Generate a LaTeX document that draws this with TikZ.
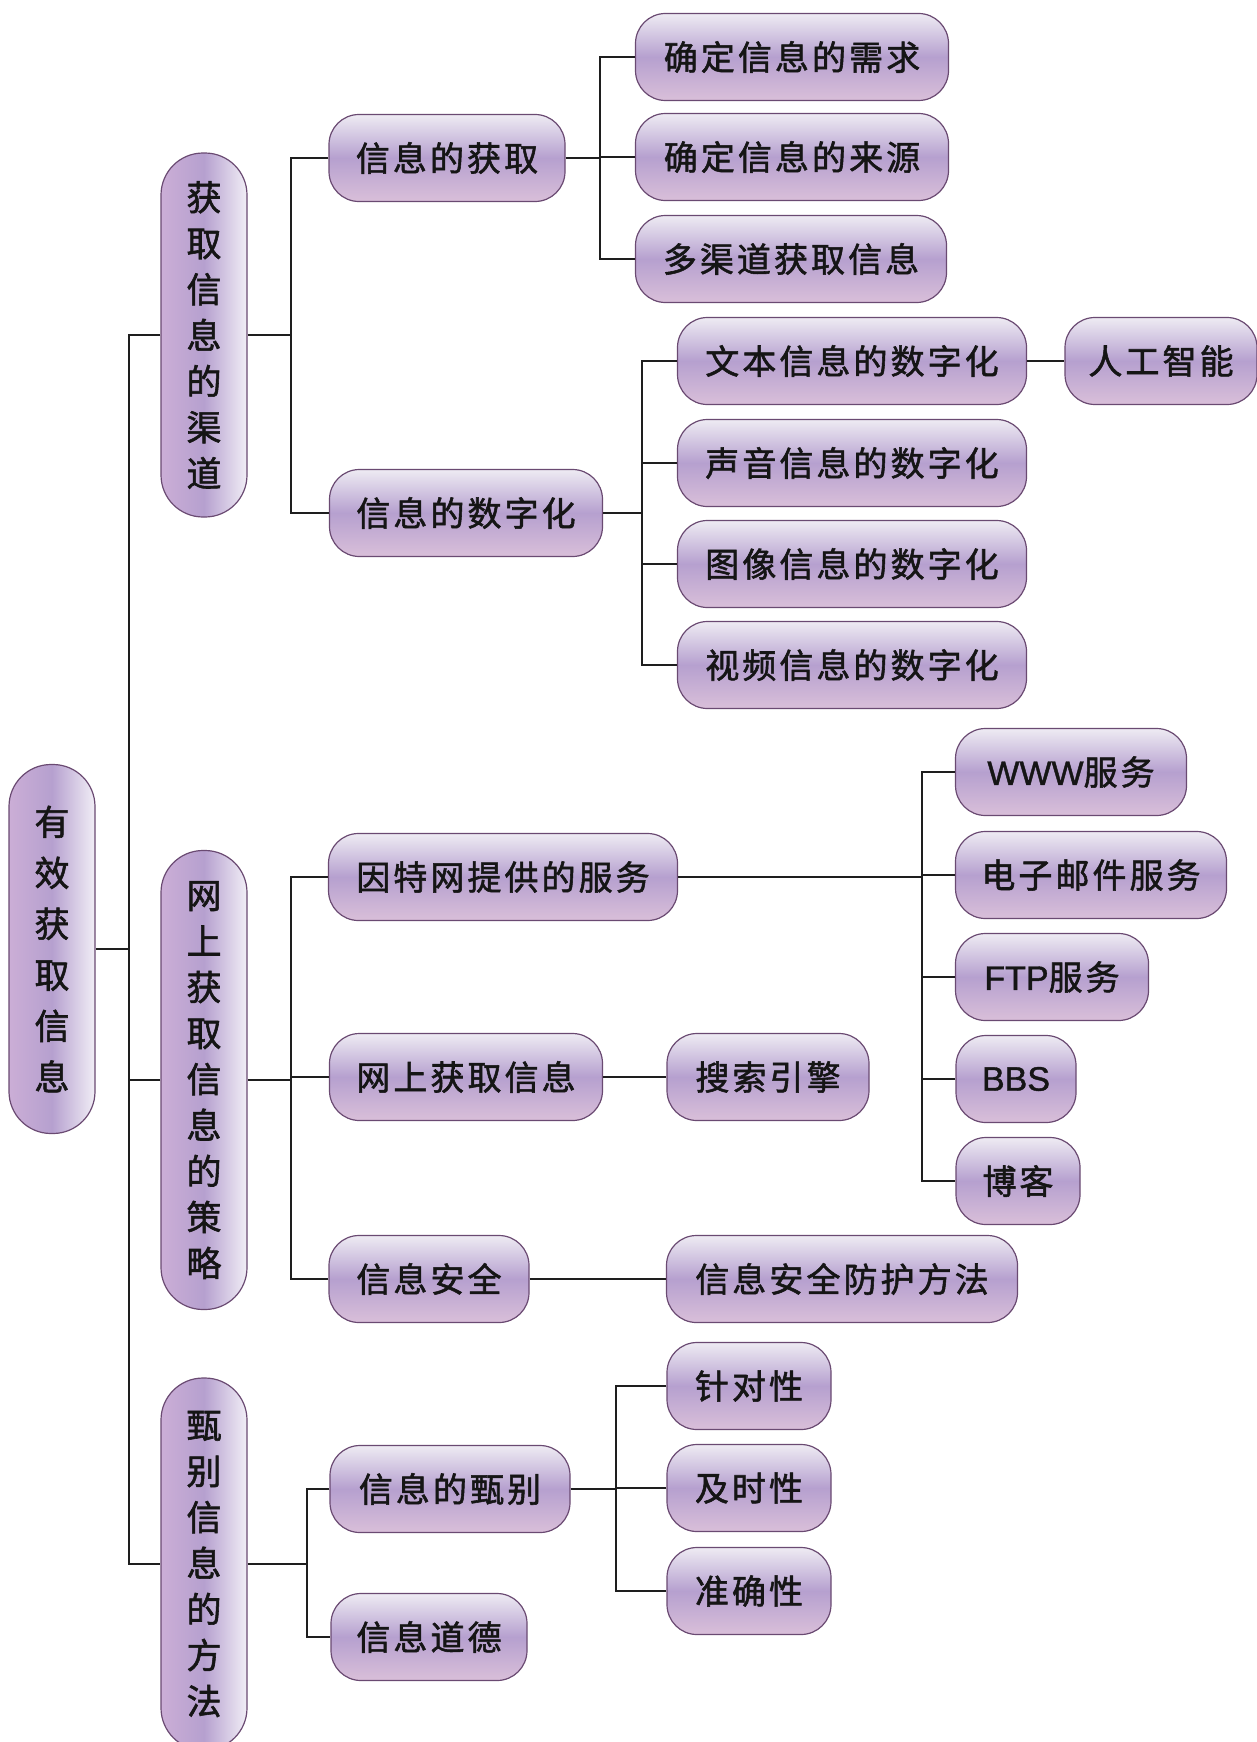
\documentclass[tikz,border=0pt]{standalone}
\usepackage{fontspec}
\newfontfamily\cjk{Noto Sans CJK SC}[LetterSpace=9,FakeBold=1.6]
\newfontfamily\cjkv{Noto Sans CJK SC}[FakeBold=1.6]
\newfontfamily\latn{Liberation Sans}[FakeBold=1.2]
\newcommand{\lt}[1]{{\latn #1}}
\definecolor{bordercol}{HTML}{6A4A72}
\definecolor{toplight}{HTML}{EEEBF3}
\definecolor{midpurple}{HTML}{B6A0CF}
\definecolor{botpink}{HTML}{D9BFD9}
\definecolor{leftpink}{HTML}{CBAED6}
\definecolor{rightlight}{HTML}{F1EEF6}
\definecolor{linecol}{HTML}{1E1E1E}
\definecolor{textcol}{HTML}{151515}
\begin{document}
\begin{tikzpicture}[x=1pt,y=-1pt,
  hbox/.style={draw=bordercol, line width=1.2pt, rounded corners=30pt,
    top color=toplight, bottom color=botpink, middle color=midpurple,
    minimum height=87pt, inner sep=0pt, text=textcol,
    font=\cjk\fontsize{34}{40}\selectfont},
  vbox/.style={draw=bordercol, line width=1.2pt, rounded corners=42pt,
    left color=leftpink, right color=rightlight, middle color=midpurple,
    minimum width=86pt, inner sep=0pt, align=center, text=textcol,
    font=\cjkv\fontsize{35}{46}\selectfont},
  link/.style={draw=linecol, line width=1.6pt}]
\useasboundingbox (0,0) rectangle (1257,1742);

% junction coordinates
\coordinate (j0) at (129,0);
\coordinate (j1) at (291,0);
\coordinate (j1c) at (307,0);
\coordinate (j2) at (600,0);
\coordinate (j3) at (642,0);
\coordinate (j4) at (922,0);
\coordinate (j5) at (616,0);

% root and level 1
\node[vbox, minimum height=369pt, font=\cjkv\fontsize{35}{51}\selectfont] (root) at (52,949) {有\\效\\获\\取\\信\\息};
\node[vbox, minimum height=364pt] (v1) at (204,335) {获\\取\\信\\息\\的\\渠\\道};
\node[vbox, minimum height=459pt] (v2) at (204,1080) {网\\上\\获\\取\\信\\息\\的\\策\\略};
\node[vbox, minimum height=372pt] (v3) at (204,1564) {甄\\别\\信\\息\\的\\方\\法};

% level 2
\node[hbox, minimum width=236pt] (n11) at (447,158) {信息的获取};
\node[hbox, minimum width=273pt] (n12) at (466,513) {信息的数字化};
\node[hbox, minimum width=349pt] (n21) at (503,877) {因特网提供的服务};
\node[hbox, minimum width=273pt] (n22) at (466,1077) {网上获取信息};
\node[hbox, minimum width=200pt] (n23) at (429,1279) {信息安全};
\node[hbox, minimum width=240pt] (n31) at (450,1489) {信息的甄别};
\node[hbox, minimum width=196pt] (n32) at (429,1637) {信息道德};

% level 3
\node[hbox, minimum width=313pt] (a1) at (792,57) {确定信息的需求};
\node[hbox, minimum width=313pt] (a2) at (792,157) {确定信息的来源};
\node[hbox, minimum width=311pt] (a3) at (791,259) {多渠道获取信息};
\node[hbox, minimum width=349pt] (b1) at (852,361) {文本信息的数字化};
\node[hbox, minimum width=349pt] (b2) at (852,463) {声音信息的数字化};
\node[hbox, minimum width=349pt] (b3) at (852,564) {图像信息的数字化};
\node[hbox, minimum width=349pt] (b4) at (852,665) {视频信息的数字化};
\node[hbox, minimum width=192pt] (ai) at (1161,361) {人工智能};
\node[hbox, minimum width=231pt] (c1) at (1071,772) {\lt{WWW}服务};
\node[hbox, minimum width=271pt] (c2) at (1091,875) {电子邮件服务};
\node[hbox, minimum width=193pt] (c3) at (1052,977) {\lt{FTP}服务};
\node[hbox, minimum width=120pt] (c4) at (1016,1079) {\lt{BBS}};
\node[hbox, minimum width=124pt] (c5) at (1018,1181) {博客};
\node[hbox, minimum width=202pt] (d1) at (768,1077) {搜索引擎};
\node[hbox, minimum width=351pt] (d2) at (842,1279) {信息安全防护方法};
\node[hbox, minimum width=164pt] (e1) at (749,1386) {针对性};
\node[hbox, minimum width=164pt] (e2) at (749,1488) {及时性};
\node[hbox, minimum width=164pt] (e3) at (749,1591) {准确性};

% connectors: root -> level 1
\draw[link] (root.east) -- (root.east -| j0);
\draw[link] (v1.west) -- (v1.west -| j0) -- (v3.west -| j0) -- (v3.west);
\draw[link] (v2.west) -- (v2.west -| j0);

% v1 -> level 2
\draw[link] (v1.east) -- (v1.east -| j1);
\draw[link] (n11.west) -- (n11.west -| j1) -- (n12.west -| j1) -- (n12.west);

% v2 -> level 2
\draw[link] (v2.east) -- (v2.east -| j1);
\draw[link] (n21.west) -- (n21.west -| j1) -- (n23.west -| j1) -- (n23.west);
\draw[link] (n22.west) -- (n22.west -| j1);

% v3 -> level 2
\draw[link] (v3.east) -- (v3.east -| j1c);
\draw[link] (n31.west) -- (n31.west -| j1c) -- (n32.west -| j1c) -- (n32.west);

% n11 -> a*
\draw[link] (n11.east) -- (n11.east -| j2);
\draw[link] (a1.west) -- (a1.west -| j2) -- (a3.west -| j2) -- (a3.west);
\draw[link] (a2.west) -- (a2.west -| j2);

% n12 -> b*
\draw[link] (n12.east) -- (n12.east -| j3);
\draw[link] (b1.west) -- (b1.west -| j3) -- (b4.west -| j3) -- (b4.west);
\draw[link] (b2.west) -- (b2.west -| j3);
\draw[link] (b3.west) -- (b3.west -| j3);
\draw[link] (b1.east) -- (ai.west);

% n21 -> c*
\draw[link] (n21.east) -- (n21.east -| j4);
\draw[link] (c1.west) -- (c1.west -| j4) -- (c5.west -| j4) -- (c5.west);
\draw[link] (c2.west) -- (c2.west -| j4);
\draw[link] (c3.west) -- (c3.west -| j4);
\draw[link] (c4.west) -- (c4.west -| j4);

% n22, n23
\draw[link] (n22.east) -- (d1.west);
\draw[link] (n23.east) -- (d2.west);

% n31 -> e*
\draw[link] (n31.east) -- (n31.east -| j5);
\draw[link] (e1.west) -- (e1.west -| j5) -- (e3.west -| j5) -- (e3.west);
\draw[link] (e2.west) -- (e2.west -| j5);
\end{tikzpicture}
\end{document}
